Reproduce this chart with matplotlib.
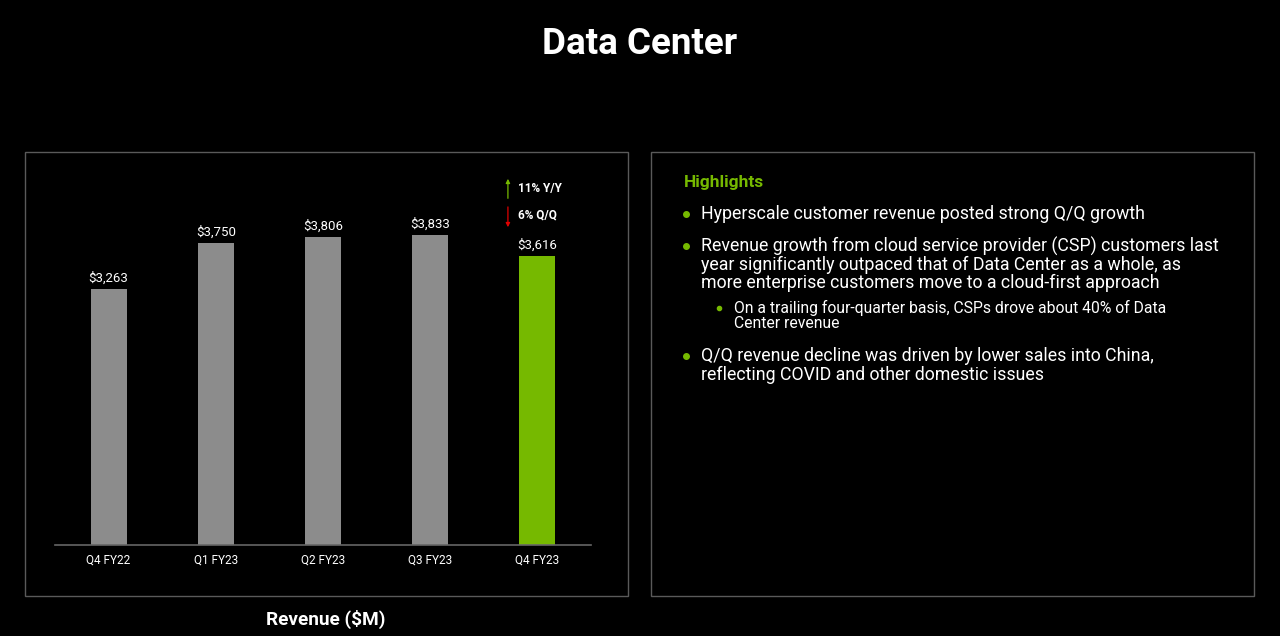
import matplotlib.pyplot as plt
from matplotlib.patches import Rectangle

# Data
quarters = ["Q4 FY22", "Q1 FY23", "Q2 FY23", "Q3 FY23", "Q4 FY23"]
revenue = [3263, 3750, 3806, 3833, 3616]
growth_yy = "11% Y/Y"
growth_qq = "6% Q/Q"

highlights = [
    (0, ["Hyperscale customer revenue posted strong Q/Q growth"]),
    (0, ["Revenue growth from cloud service provider (CSP) customers last",
         "year significantly outpaced that of Data Center as a whole, as",
         "more enterprise customers move to a cloud-first approach"]),
    (1, ["On a trailing four-quarter basis, CSPs drove about 40% of Data",
         "Center revenue"]),
    (0, ["Q/Q revenue decline was driven by lower sales into China,",
         "reflecting COVID and other domestic issues"]),
]

green = "#76b900"
grey = "#8c8c8c"
W, H = 1280, 636

plt.rcParams['font.family'] = ['Roboto', 'DejaVu Sans']

fig = plt.figure(figsize=(12.8, 6.36), dpi=100, facecolor="black")

def fx(x):
    return x / W

def fy(y):
    return 1 - y / H

# panel frames
for x0, x1 in [(25, 628), (651, 1254)]:
    fig.patches.append(Rectangle((fx(x0), fy(596)), fx(x1 - x0), (596 - 152) / H,
                                 transform=fig.transFigure, fill=False,
                                 edgecolor="#5a5a5a", linewidth=1.0))

fig.text(0.5, fy(44), "Data Center", color="white", fontsize=26.5,
         fontweight="bold", ha="center", va="center")
fig.text(fx(326), fy(619), "Revenue ($M)", color="white", fontsize=13.7,
         fontweight="bold", ha="center", va="center")

# bar chart
ax = fig.add_axes([fx(55), fy(545), fx(591 - 55), (545 - 165) / H])
ax.set_facecolor("black")
colors = [grey] * (len(quarters) - 1) + [green]
x = range(len(quarters))
bars = ax.bar(x, revenue, width=0.336, color=colors)
for b, v in zip(bars, revenue):
    ax.text(b.get_x() + b.get_width() / 2, v + 45, f"${v:,}", color="white",
            fontsize=9.5, ha="center", va="bottom")
ax.set_xlim(-0.5, 4.5)
ax.set_ylim(600, 4560)
ax.set_xticks(list(x))
ax.set_xticklabels(quarters, color="white", fontsize=8.5)
ax.tick_params(axis="x", length=0, pad=6)
ax.set_yticks([])
for s in ["top", "left", "right"]:
    ax.spines[s].set_visible(False)
ax.spines["bottom"].set_color("#666666")
ax.spines["bottom"].set_linewidth(1.2)

# growth arrows
ax.annotate("", xy=(0.845, 0.971), xytext=(0.845, 0.905), xycoords="axes fraction",
            arrowprops=dict(arrowstyle="-|>", color=green, lw=0.9, mutation_scale=6))
ax.annotate("", xy=(0.845, 0.829), xytext=(0.845, 0.897), xycoords="axes fraction",
            arrowprops=dict(arrowstyle="-|>", color="#e00000", lw=0.9, mutation_scale=6))
ax.text(0.864, 0.937, growth_yy, color="white", fontsize=8.5, fontweight="bold",
        ha="left", va="center", transform=ax.transAxes)
ax.text(0.864, 0.868, growth_qq, color="white", fontsize=8.5, fontweight="bold",
        ha="left", va="center", transform=ax.transAxes)

# highlights panel
fig.text(fx(684), fy(182), "Highlights", color=green, fontsize=12.5,
         fontweight="bold", ha="left", va="center")
y = 214
for level, lines in highlights:
    if level == 0:
        bx, tx, fs, lh, ms = 686, 701, 12.8, 18.5, 4
    else:
        y -= 7
        bx, tx, fs, lh, ms = 719, 734, 11.3, 16, 3
    fig.lines.append(plt.Line2D([fx(bx)], [fy(y)], marker="o", markersize=ms,
                                color=green, linestyle="none",
                                transform=fig.transFigure))
    for ln in lines:
        fig.text(fx(tx), fy(y), ln, color="white", fontsize=fs,
                 ha="left", va="center")
        y += lh
    y += 13.5 if level == 0 else 16

fig.savefig("out.png", dpi=100, facecolor="black")
